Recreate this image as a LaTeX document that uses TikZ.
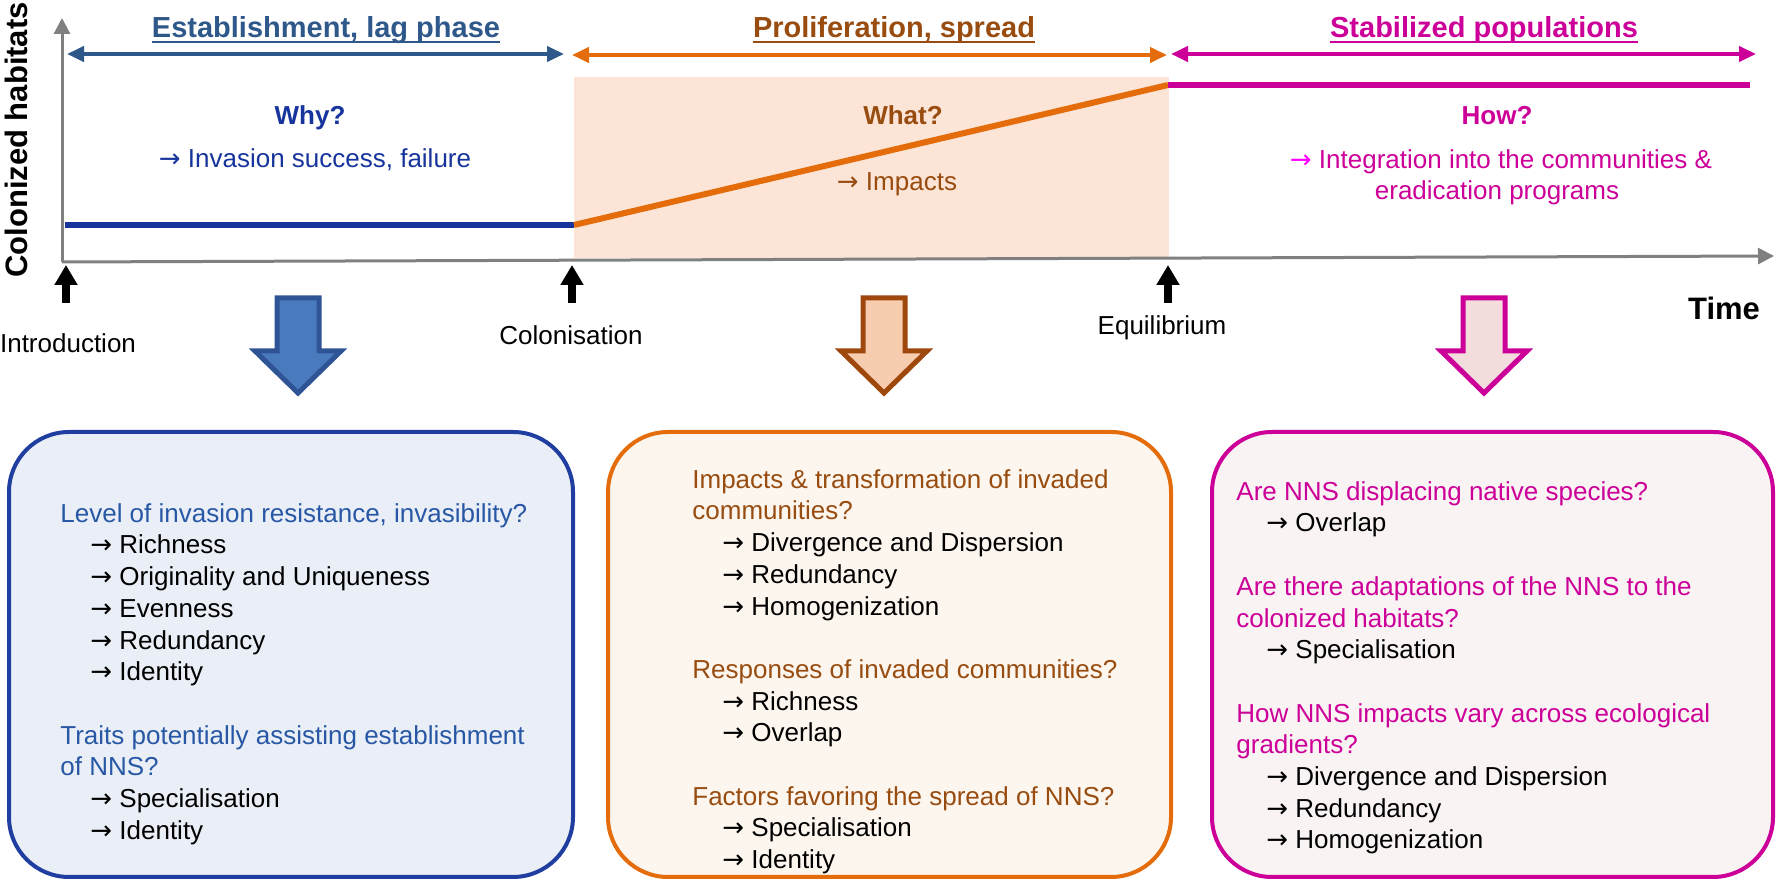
\documentclass[tikz,border=0pt]{standalone}
\usepackage{fontspec}
\setmainfont{Liberation Sans}
\newfontfamily\arrowfont{DejaVu Sans}
\usetikzlibrary{arrows.meta}

\definecolor{axisgray}{RGB}{128,128,128}
\definecolor{estblue}{RGB}{46,88,138}
\definecolor{navy}{RGB}{22,52,156}
\definecolor{qblue}{RGB}{40,88,165}
\definecolor{boxblue}{RGB}{32,62,160}
\definecolor{boxbluefill}{RGB}{234,239,247}
\definecolor{arrblue}{RGB}{74,122,190}
\definecolor{arrblueline}{RGB}{47,84,150}
\definecolor{orng}{RGB}{228,108,10}
\definecolor{brwn}{RGB}{152,76,16}
\definecolor{peach}{RGB}{252,229,214}
\definecolor{boxorangefill}{RGB}{253,246,239}
\definecolor{arrorange}{RGB}{248,204,174}
\definecolor{arrorangeline}{RGB}{158,72,14}
\definecolor{mgnt}{RGB}{204,0,153}
\definecolor{brightmag}{RGB}{255,0,255}
\definecolor{boxpinkfill}{RGB}{249,243,243}
\definecolor{arrpink}{RGB}{242,221,220}

\newcommand{\arr}{{\arrowfont →}}
\newcommand{\itm}[1]{\hspace*{15pt}{\color{black}\arr\ #1}}

\tikzset{
  txt/.style={inner sep=0pt, font=\fontsize{13}{15.85}\selectfont},
  ask/.style={inner sep=0pt, anchor=base, font=\fontsize{13}{15.85}\selectfont\bfseries},
  head/.style={inner sep=0pt, anchor=base, font=\fontsize{14.5}{17}\selectfont\bfseries},
  axis/.style={axisgray, line width=1.5pt, -{Triangle[length=8pt,width=8pt]}},
  span/.style={line width=2pt, {Triangle[length=8.5pt,width=7.5pt]}-{Triangle[length=8.5pt,width=7.5pt]}},
  curve/.style={line width=3pt},
  uparr/.style={line width=4pt, -{Triangle[length=10pt,width=11pt]}},
  stage/.style={rounded corners=30pt, line width=2pt},
  blockarr/.style={line width=2.5pt, line join=miter},
  quest/.style={txt, align=left, anchor=north west}
}

\begin{document}
\begin{tikzpicture}[x=0.5pt, y=-0.5pt]
  \useasboundingbox (0,0) rectangle (1779,886);

  % growth phases
  \fill[peach] (574,77) rectangle (1169,258);
  \coordinate (O) at (62,262);
  \draw[axis] (O) -- (62,18);
  \draw[axis] (O) -- (1774,256);
  \node[inner sep=0pt, rotate=90, font=\fontsize{15.5}{18}\selectfont\bfseries] (ylab) at (16,140) {Colonized habitats};
  \node[inner sep=0pt, anchor=base, font=\fontsize{15.5}{18}\selectfont\bfseries] (time) at (1724,320) {Time};

  \draw[curve, navy] (65,225) -- (574,225);
  \draw[curve, orng] (574,225) -- (1168,85);
  \draw[curve, mgnt] (1168,85) -- (1750,85);

  \foreach \n/\x/\c/\t in {est/326/estblue/{Establishment, lag phase}, pro/894/brwn/{Proliferation, spread}, sta/1484/mgnt/{Stabilized populations}} {
    \node[head, text=\c] (\n) at (\x,38) {\t};
    \draw[\c, line width=1pt] ([yshift=-2pt]\n.base west) -- ([yshift=-2pt]\n.base east);
  }
  \draw[span, estblue] (67,54) -- (564,54);
  \draw[span, orng] (572,55) -- (1167,55);
  \draw[span, mgnt] (1171,54) -- (1756,54);

  \node[ask, text=navy] (why) at (310,125) {Why?};
  \node[txt, anchor=base, text=navy] (whyans) at (315,168) {\arr\ Invasion success, failure};
  \node[ask, text=brwn] (what) at (903,125) {What?};
  \node[txt, anchor=base, text=brwn] (whatans) at (897,191) {\arr\ Impacts};
  \node[ask, text=mgnt] (how) at (1497,125) {How?};
  \node[txt, anchor=base, text=mgnt] (howans) at (1501,169) {\textcolor{brightmag}{\arr}\ Integration into the communities \&};
  \node[txt, anchor=base, text=mgnt] (howans2) at (1497,200) {eradication programs};

  \foreach \n/\x/\lx/\ly/\t in {intro/66/68/353/Introduction, colon/572/571/345/Colonisation, equil/1168/1162/335/Equilibrium} {
    \coordinate (m\n) at (\x,265);
    \draw[uparr] (\x,303) -- (m\n);
    \node[txt, anchor=base] (\n) at (\lx,\ly) {\t};
  }

  \foreach \x/\f/\d in {298/arrblue/arrblueline, 884/arrorange/arrorangeline, 1484/arrpink/mgnt}
    \filldraw[blockarr, fill=\f, draw=\d] ({\x-21},298) -- ({\x+21},298) -- ({\x+21},351) -- ({\x+43},351)
      -- (\x,393) -- ({\x-43},351) -- ({\x-21},351) -- cycle;

  % question boxes
  \draw[stage, draw=boxblue, fill=boxbluefill] (9,432) rectangle (573,877);
  \draw[stage, draw=orng, fill=boxorangefill] (608,432) rectangle (1171,877);
  \draw[stage, draw=mgnt, fill=boxpinkfill] (1212,432) rectangle (1773,877);

  \node[quest, text=qblue] (qest) at (60,503) {Level of invasion resistance, invasibility?\\
    \itm{Richness}\\
    \itm{Originality and Uniqueness}\\
    \itm{Evenness}\\
    \itm{Redundancy}\\
    \itm{Identity}\\[15.85pt]
    Traits potentially assisting establishment\\
    of NNS?\\
    \itm{Specialisation}\\
    \itm{Identity}};
  \node[quest, text=brwn] (qpro) at (692,469) {Impacts \& transformation of invaded\\
    communities?\\
    \itm{Divergence and Dispersion}\\
    \itm{Redundancy}\\
    \itm{Homogenization}\\[15.85pt]
    Responses of invaded communities?\\
    \itm{Richness}\\
    \itm{Overlap}\\[15.85pt]
    Factors favoring the spread of NNS?\\
    \itm{Specialisation}\\
    \itm{Identity}};
  \node[quest, text=mgnt] (qsta) at (1236,481) {Are NNS displacing native species?\\
    \itm{Overlap}\\[15.85pt]
    Are there adaptations of the NNS to the\\
    colonized habitats?\\
    \itm{Specialisation}\\[15.85pt]
    How NNS impacts vary across ecological\\
    gradients?\\
    \itm{Divergence and Dispersion}\\
    \itm{Redundancy}\\
    \itm{Homogenization}};
\end{tikzpicture}
\end{document}
